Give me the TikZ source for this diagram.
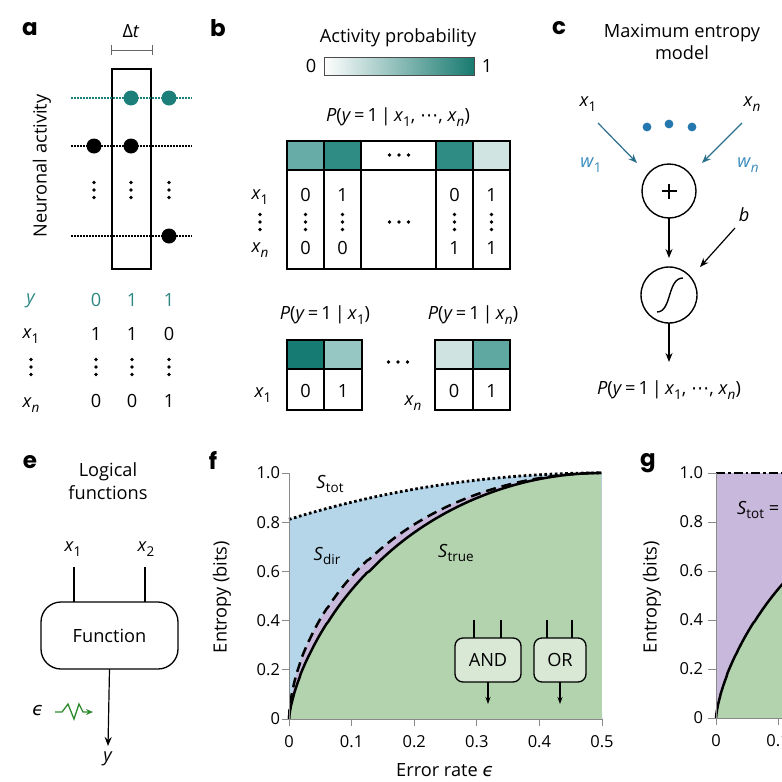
\documentclass[tikz,border=0pt]{standalone}
\usepackage{fontspec}
\setmainfont{Open Sans}
\newfontfamily\lblfont{Poppins}
\newfontfamily\dejavu{DejaVu Sans}
\usetikzlibrary{arrows.meta}
\definecolor{tealA}{HTML}{1C7F79}
\definecolor{tealB}{HTML}{2C8882}
\definecolor{cbEnd}{HTML}{187A70}
\definecolor{hA}{HTML}{67ACA6}
\definecolor{hB}{HTML}{2E8C85}
\definecolor{hE}{HTML}{D0E5E2}
\definecolor{sA}{HTML}{167B73}
\definecolor{sB}{HTML}{96C7C2}
\definecolor{sC}{HTML}{CFE4E1}
\definecolor{sD}{HTML}{5FA8A2}
\definecolor{cdot}{HTML}{2478AD}
\definecolor{carr}{HTML}{2C6F8C}
\definecolor{cw}{HTML}{3A8BBE}
\definecolor{egreen}{HTML}{2E8B2E}
\definecolor{fblue}{HTML}{B5D5E8}
\definecolor{fpurple}{HTML}{C8B8DC}
\definecolor{fgreen}{HTML}{B3D2AE}
\definecolor{boxg}{HTML}{D8E8D5}
\definecolor{axgray}{HTML}{8A8A8A}
\newcommand\sbs[1]{\raisebox{-0.45ex}{\fontsize{13.5}{15}\selectfont #1}}
\newcommand\vx[1]{\textit{x}\sbs{#1}}
\newcommand\eps{{\dejavu\itshape ϵ}}
\newcommand\cdts{{\dejavu ⋯}}
\newcommand\pcond[1]{\textit{P}(\textit{y}\,=\,1\,|\,#1)}
\newcommand\vdotsat[2]{\foreach \k in {-7.5,0,7.5}{\fill (#1,#2+\k) circle (1.8pt);}}
\newcommand\hdotsat[2]{\foreach \k in {-9.5,0,9.5}{\fill (#1+\k,#2) circle (1.9pt);}}
\begin{document}
\begin{tikzpicture}[x=1pt,y=-1pt,
  every node/.style={font=\fontsize{18.2}{21}\selectfont, inner sep=0pt, outer sep=0pt},
  lbl/.style={font=\lblfont\bfseries\fontsize{23}{26}\selectfont},
  tick/.style={font=\fontsize{16.5}{19}\selectfont},
  arr/.style={-{Stealth[length=9pt,width=7pt]}, line width=1.2pt},
  dotl/.style={line width=1.2pt, dash pattern=on 1.5pt off 1.5pt},
  bigdot/.style={circle, fill, minimum size=15pt},
  grid/.style={line width=2pt},
  fbox/.style={draw, line width=1.3pt, rounded corners=8pt, fill=boxg, minimum width=66pt, minimum height=44pt},
  declare function={Hc(\q)=-(\q*ln(\q)+(1-\q)*ln(1-\q))/ln(2); Hb(\p)=Hc(max(\p,0.0005));
    Strue(\e)=pow(Hb(\e),0.85); Sdir(\e)=pow(Hb(\e),0.72);}
]
\clip (0,0) rectangle (782,782);
\fill[white] (0,0) rectangle (782,782);

% ---------------- panel a
\node[lbl] (la) at (30,29) {a};
\node (dt) at (131,31) {Δ\textit{t}};
\coordinate (bl) at (111,50); \coordinate (br) at (152,50);
\draw[gray!80!black, line width=1pt] (bl) -- (br) (111,45) -- (111,55) (152,45) -- (152,55);
\node[draw, line width=1.2pt, minimum width=39pt, minimum height=200pt] (win) at (131.5,169) {};
\coordinate (ta1) at (71,98);  \coordinate (ta2) at (192,98);
\coordinate (ba1) at (71,146); \coordinate (ba2) at (192,146);
\coordinate (ca1) at (71,236); \coordinate (ca2) at (192,236);
\draw[dotl, tealA] (ta1) -- (ta2);
\draw[dotl] (ba1) -- (ba2);
\draw[dotl] (ca1) -- (ca2);
\node[bigdot, tealA] (s1) at (131,98) {};
\node[bigdot, tealA] (s2) at (169,98) {};
\node[bigdot] (s3) at (94,146) {};
\node[bigdot] (s4) at (131,146) {};
\node[bigdot] (s5) at (169,236) {};
\vdotsat{94}{190}\vdotsat{131}{190}\vdotsat{169}{190}
\node[rotate=90] (na) at (42,166) {Neuronal activity};
\node[tealB] (ry) at (31,301) {\textit{y}};
\node[tealB] (ry1) at (96,300) {0};
\node[tealB] (ry2) at (132,300) {1};
\node[tealB] (ry3) at (169,300) {1};
\node (rx1) at (31,336) {\vx{1}};
\node (rx11) at (96,334) {1};
\node (rx12) at (132,334) {1};
\node (rx13) at (169,334) {0};
\vdotsat{31}{367}\vdotsat{96}{367}\vdotsat{132}{367}\vdotsat{169}{367}
\node (rxn) at (31,405) {\vx{\textit{n}}};
\node (rxn1) at (96,401) {0};
\node (rxn2) at (132,401) {0};
\node (rxn3) at (169,401) {1};

% ---------------- panel b
\node[lbl] (lb) at (218,28) {b};
\node (ap) at (398,38) {Activity probability};
\shade[left color=white, right color=cbEnd] (324,57) rectangle (474,75);
\draw[line width=0.8pt, gray!60!black] (324,57) rectangle (474,75);
\node (cb0) at (311,66) {0};
\node (cb1) at (487,66) {1};
\node (pall) at (398,117) {\pcond{\vx{1}, \cdts, \vx{\textit{n}}}};
% big table
\fill[hA] (287,141) rectangle (324,170);
\fill[hB] (324,141) rectangle (361,170);
\fill[hB] (436,141) rectangle (473,170);
\fill[hE] (473,141) rectangle (510,170);
\draw[grid] (287,141) rectangle (510,269);
\draw[grid] (287,170) -- (510,170);
\foreach \cx in {324,361,436,473} {\draw[grid] (\cx,141) -- (\cx,269);}
\hdotsat{399}{155}
\hdotsat{399}{222}
\node (bx1) at (260,197) {\vx{1}};
\vdotsat{260}{222}
\node (bxn) at (260,250) {\vx{\textit{n}}};
\node at (305.5,195) {0}; \vdotsat{305.5}{222} \node at (305.5,248) {0};
\node at (342.5,195) {1}; \vdotsat{342.5}{222} \node at (342.5,248) {0};
\node at (454.5,195) {0}; \vdotsat{454.5}{222} \node at (454.5,248) {1};
\node at (491.5,195) {1}; \vdotsat{491.5}{222} \node at (491.5,248) {1};
% small tables
\node (p1) at (325,315) {\pcond{\vx{1}}};
\node (pn) at (473,315) {\pcond{\vx{\textit{n}}}};
\fill[sA] (287,340) rectangle (324,369);
\fill[sB] (324,340) rectangle (362,369);
\draw[grid] (287,340) rectangle (362,410);
\draw[grid] (287,369) -- (362,369) (324,340) -- (324,410);
\node at (305.5,391) {0}; \node at (343,391) {1};
\node (sx1) at (263,395) {\vx{1}};
\hdotsat{398}{362}
\fill[sC] (435,340) rectangle (473,369);
\fill[sD] (473,340) rectangle (510,369);
\draw[grid] (435,340) rectangle (510,410);
\draw[grid] (435,369) -- (510,369) (473,340) -- (473,410);
\node at (454,391) {0}; \node at (491.5,391) {1};
\node (sxn) at (413,403) {\vx{\textit{n}}};

% ---------------- panel c
\node[lbl] (lc) at (559,28) {c};
\node (me1) at (682,33) {Maximum entropy};
\node (me2) at (682,53) {model};
\node (cx1) at (588,104) {\vx{1}};
\node (cxn) at (752,104) {\vx{\textit{n}}};
\fill[cdot] (647,127) circle (4.4pt) (669,124) circle (4.4pt) (692,127) circle (4.4pt);
\coordinate (w1s) at (598,123); \coordinate (w1e) at (637,163);
\coordinate (wns) at (742,123); \coordinate (wne) at (702,163);
\draw[arr, carr] (w1s) -- (w1e);
\draw[arr, carr] (wns) -- (wne);
\node[cw] (w1) at (591,165) {\textit{w}\sbs{1}};
\node[cw] (wn) at (748,165) {\textit{w}\sbs{\textit{n}}};
\node[draw, circle, line width=1.4pt, minimum size=54pt] (plus) at (669,191) {};
\draw[line width=1.4pt] (661.5,191) -- (676.5,191) (669,183.5) -- (669,198.5);
\node[draw, circle, line width=1.4pt, minimum size=56pt] (sig) at (669,295) {};
\draw[line width=1.4pt] (657,312) .. controls (672,312) and (667,278) .. (683,278);
\draw[arr, shorten >=9pt] (plus.south) -- (sig.north);
\node (bb) at (744,215) {\textit{b}};
\coordinate (bs) at (735,228); \coordinate (be) at (700,267);
\draw[arr] (bs) -- (be);
\node (pout) at (669,390) {\pcond{\vx{1}, \cdts, \vx{\textit{n}}}};
\coordinate (pe) at (669,362);
\draw[arr] (sig.south) -- (pe);

% ---------------- panel e
\node[lbl] (le) at (30,462) {e};
\node (lf1) at (108,472) {Logical};
\node (lf2) at (108,493) {functions};
\node (ex1) at (73,549) {\vx{1}};
\node (ex2) at (146,549) {\vx{2}};
\node[draw, line width=1.3pt, rounded corners=20pt, minimum width=137pt, minimum height=67pt] (fn) at (109.5,635.5) {Function};
\coordinate (ex1b) at (74,567); \coordinate (ex2b) at (145,567);
\draw[line width=1.2pt] (ex1b) -- (ex1b |- fn.north);
\draw[line width=1.2pt] (ex2b) -- (ex2b |- fn.north);
\node (ey) at (108,759) {\textit{y}};
\coordinate (eye) at (108,746);
\draw[arr] (fn.south) -- (eye);
\node (eeps) at (38,711) {\eps};
\draw[egreen, line width=1.3pt, -{Stealth[length=7pt,width=6pt]}] (55,712) -- (62,712) -- (68,704) -- (74,719) -- (79,704) -- (83,712) -- (93,712);

% ---------------- panel f
\node[lbl] (lf) at (213,460) {f};
\fill[fblue] (289,719) -- plot[domain=0:0.5, samples=60] ({289+626*\x},{719-246*Hb(0.25+0.5*\x)}) -- (602,719) -- cycle;
\fill[fpurple] (289,719) -- plot[domain=0.04:1, samples=120] ({289+313*\x*\x},{719-246*Sdir(0.5*\x*\x)}) -- (602,719) -- cycle;
\fill[fgreen] (289,719) -- plot[domain=0.04:1, samples=120] ({289+313*\x*\x},{719-246*Strue(0.5*\x*\x)}) -- (602,719) -- cycle;
\draw[line width=2.8pt, dash pattern=on 2.6pt off 2.6pt] plot[domain=0:0.5, samples=60] ({289+626*\x},{719-246*Hb(0.25+0.5*\x)});
\draw[line width=2.5pt, dash pattern=on 10pt off 6pt] (289,719) -- plot[domain=0.04:1, samples=120] ({289+313*\x*\x},{719-246*Sdir(0.5*\x*\x)});
\draw[line width=2.5pt] (289,719) -- plot[domain=0.04:1, samples=120] ({289+313*\x*\x},{719-246*Strue(0.5*\x*\x)});
\draw[axgray, line width=1pt] (289,473) -- (289,719) -- (602,719);
\foreach \v/\t in {0/0,0.2/0.2,0.4/0.4,0.6/0.6,0.8/0.8,1/1.0} {
  \draw[axgray, line width=1pt] (282,719-246*\v) -- (289,719-246*\v);
  \node[tick, anchor=east] at (280,719-246*\v) {\t};
}
\foreach \v/\t in {0/0,0.1/0.1,0.2/0.2,0.3/0.3,0.4/0.4,0.5/0.5} {
  \draw[axgray, line width=1pt] (289+626*\v,719) -- (289+626*\v,726);
  \node[tick] at (289+626*\v,742) {\t};
}
\node (fxl) at (445,770) {Error rate \eps};
\node[rotate=90] (fyl) at (222,597) {Entropy (bits)};
\node (stot) at (330,484) {\textit{S}\sbs{tot}};
\node (sdir) at (327,556) {\textit{S}\sbs{dir}};
\node (strue) at (456,553) {\textit{S}\sbs{true}};
\node[fbox] (and) at (488,660) {AND};
\node[fbox, minimum width=52pt] (or) at (560,660) {OR};
\coordinate (a1) at (474,620); \coordinate (a2) at (501,620);
\coordinate (o1) at (547,620); \coordinate (o2) at (572,620);
\draw[line width=1.1pt] (a1) -- (a1 |- and.north) (a2) -- (a2 |- and.north);
\draw[line width=1.1pt] (o1) -- (o1 |- or.north) (o2) -- (o2 |- or.north);
\coordinate (ao) at (488,704); \coordinate (oo) at (560,704);
\draw[-{Stealth[length=7pt,width=5pt]}, line width=1.1pt] (and.south) -- (ao);
\draw[-{Stealth[length=7pt,width=5pt]}, line width=1.1pt] (or.south) -- (oo);

% ---------------- panel g
\node[lbl] (lg) at (648,463) {g};
\fill[fpurple] (716,473) rectangle (800,718);
\fill[fgreen] (716,718) -- plot[domain=0.04:0.5, samples=80] ({716+310*\x*\x},{718-245*Strue(0.5*\x*\x)}) -- (800,718) -- cycle;
\draw[line width=2.5pt] (716,718) -- plot[domain=0.04:0.5, samples=80] ({716+310*\x*\x},{718-245*Strue(0.5*\x*\x)});
\draw[line width=2.6pt, dash pattern=on 9pt off 3pt on 2.5pt off 3pt] (716,473) -- (800,473);
\draw[axgray, line width=1pt] (716,473) -- (716,718) -- (800,718);
\foreach \v/\t in {0/0,0.2/0.2,0.4/0.4,0.6/0.6,0.8/0.8,1/1.0} {
  \draw[axgray, line width=1pt] (708,718-245*\v) -- (716,718-245*\v);
  \node[tick, anchor=east] at (703,718-245*\v) {\t};
}
\foreach \v/\t in {0/0,0.1/0.1} {
  \draw[axgray, line width=1pt] (716+620*\v,718) -- (716+620*\v,725);
  \node[tick] at (716+620*\v,741) {\t};
}
\node[rotate=90] (gyl) at (652,597) {Entropy (bits)};
\node[anchor=west] (gst) at (737,510) {\textit{S}\sbs{tot} =};
\end{tikzpicture}
\end{document}
